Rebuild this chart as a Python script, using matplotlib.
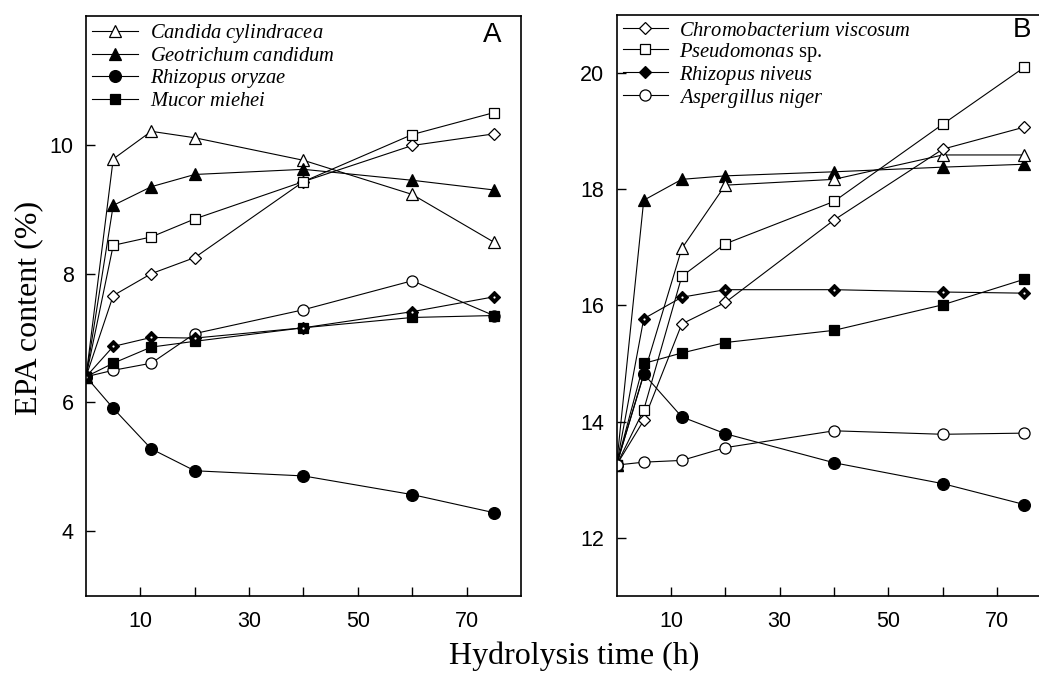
import matplotlib
matplotlib.use('Agg')
import matplotlib.pyplot as plt

plt.rcParams['font.family'] = ['Liberation Sans', 'DejaVu Sans']
plt.rcParams['mathtext.fontset'] = 'custom'
plt.rcParams['mathtext.it'] = 'Liberation Serif:italic'
plt.rcParams['mathtext.rm'] = 'Liberation Serif'

# hydrolysis time points (h)
hours = [0, 5, 12, 20, 40, 60, 75]
hours_no5 = [0, 12, 20, 40, 60, 75]

# panel A, EPA content (%)
a_candida = [6.4, 9.78, 10.21, 10.11, 9.76, 9.23, 8.49]
a_geotrichum = [6.4, 9.06, 9.35, 9.54, 9.62, 9.45, 9.30]
a_rh_oryzae = [6.4, 5.91, 5.28, 4.94, 4.86, 4.57, 4.29]
a_mucor = [6.4, 6.61, 6.86, 6.95, 7.16, 7.32, 7.35]
a_pseudomonas = [6.4, 8.44, 8.57, 8.85, 9.43, 10.16, 10.50]
a_chromo = [6.4, 7.66, 8.00, 8.25, 9.43, 9.99, 10.17]
a_rh_niveus = [6.4, 6.87, 7.01, 7.00, 7.16, 7.41, 7.64]
a_aspergillus = [6.4, 6.50, 6.61, 7.07, 7.44, 7.89, 7.35]

# panel B, EPA content (%)
b_chromo = [13.25, 14.02, 15.68, 16.05, 17.47, 18.69, 19.07]
b_pseudomonas = [13.25, 14.20, 16.50, 17.06, 17.79, 19.12, 20.10]
b_rh_niveus = [13.25, 15.77, 16.14, 16.27, 16.27, 16.23, 16.21]
b_aspergillus = [13.25, 13.30, 13.33, 13.55, 13.84, 13.78, 13.80]
b_geotrichum = [13.25, 17.81, 18.17, 18.23, 18.30, 18.38, 18.43]
b_candida = [13.25, 16.98, 18.07, 18.17, 18.59, 18.59]
b_mucor = [13.25, 15.00, 15.18, 15.36, 15.57, 16.01, 16.45]
b_rh_oryzae = [13.25, 14.82, 14.08, 13.79, 13.29, 12.93, 12.57]

xticks = [10, 20, 30, 40, 50, 60, 70]
xticklabels = ['10', '', '30', '', '50', '', '70']


def draw(ax, x, y, marker, filled, ms):
    line, = ax.plot(x, y, color='black', lw=0.8, marker=marker, ms=ms,
                    mfc='black' if filled else 'white', mec='black', mew=0.9)
    if filled and marker == 'D':
        # scanned filled diamonds carry a small white centre
        ax.plot(x, y, ls='none', marker='o', ms=1.6, color='white', mew=0)
    return line


def style_axes(ax, ylim, yticks):
    ax.set_xlim(0, 80)
    ax.set_ylim(*ylim)
    ax.set_xticks(xticks)
    ax.set_xticklabels(xticklabels)
    ax.set_yticks(yticks)
    ax.tick_params(direction='in', length=6.5, width=1, labelsize=15.5)
    ax.tick_params(axis='x', pad=11)
    ax.tick_params(axis='y', pad=9)
    for s in ax.spines.values():
        s.set_linewidth(1.2)


fig = plt.figure(figsize=(10.39, 6.82), dpi=100)
axA = fig.add_axes([0.0828, 0.1265, 0.4186, 0.85])
axB = fig.add_axes([0.5934, 0.1265, 0.4187, 0.8515])

# panel A
draw(axA, hours, a_aspergillus, 'o', False, 8)
draw(axA, hours, a_chromo, 'D', False, 6.5)
draw(axA, hours, a_pseudomonas, 's', False, 7)
hA = [
    draw(axA, hours, a_candida, '^', False, 8),
    draw(axA, hours, a_geotrichum, '^', True, 8),
    draw(axA, hours, a_rh_oryzae, 'o', True, 8.5),
    draw(axA, hours, a_mucor, 's', True, 7),
]
draw(axA, hours, a_rh_niveus, 'D', True, 6.5)
style_axes(axA, (3, 12), [4, 6, 8, 10])
axA.legend(hA, [r'$\mathit{Candida\ cylindracea}$', r'$\mathit{Geotrichum\ candidum}$',
                r'$\mathit{Rhizopus\ oryzae}$', r'$\mathit{Mucor\ miehei}$'],
           loc='upper left', frameon=False,
           prop={'family': 'Liberation Serif', 'size': 14.8},
           borderaxespad=0, borderpad=0.3, handlelength=2.25, handletextpad=0.55,
           labelspacing=0.07)
axA.text(0.955, 0.99, 'A', transform=axA.transAxes, ha='right', va='top', fontsize=20)

# panel B
draw(axB, hours, b_geotrichum, '^', True, 8)
draw(axB, hours_no5, b_candida, '^', False, 8)
draw(axB, hours, b_mucor, 's', True, 7)
draw(axB, hours, b_rh_oryzae, 'o', True, 8.5)
hB = [
    draw(axB, hours, b_chromo, 'D', False, 6.5),
    draw(axB, hours, b_pseudomonas, 's', False, 7),
    draw(axB, hours, b_rh_niveus, 'D', True, 6.5),
    draw(axB, hours, b_aspergillus, 'o', False, 8),
]
style_axes(axB, (11, 21), [12, 14, 16, 18, 20])
axB.legend(hB, [r'$\mathit{Chromobacterium\ viscosum}$', r'$\mathit{Pseudomonas}$ sp.',
                r'$\mathit{Rhizopus\ niveus}$', r'$\mathit{Aspergillus\ niger}$'],
           loc='upper left', frameon=False,
           prop={'family': 'Liberation Serif', 'size': 14.8},
           borderaxespad=0, borderpad=0.3, handlelength=2.2, handletextpad=0.55,
           labelspacing=0.0)
axB.text(0.953, 0.996, 'B', transform=axB.transAxes, ha='right', va='top', fontsize=20)

fig.text(0.028, 0.548, 'EPA content (%)', rotation=90, ha='center', va='center',
         family='Liberation Serif', fontsize=23)
fig.text(0.553, 0.026, 'Hydrolysis time (h)', ha='center', va='baseline',
         family='Liberation Serif', fontsize=23)

fig.savefig('out.png', dpi=100)
